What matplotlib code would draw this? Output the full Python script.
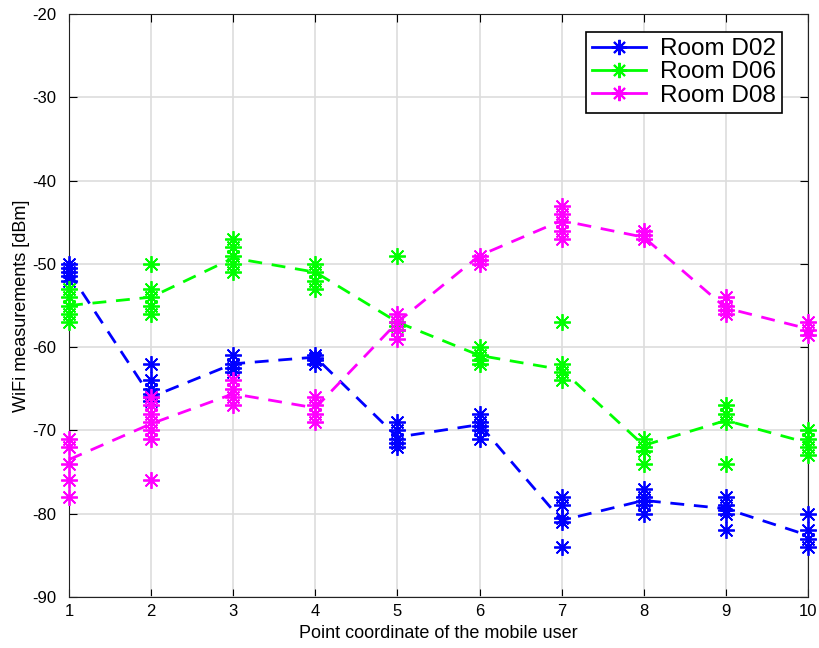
import numpy as np
import matplotlib
matplotlib.use('Agg')
import matplotlib.pyplot as plt
from matplotlib.lines import Line2D

plt.rcParams['font.family'] = ['Liberation Sans', 'DejaVu Sans']
plt.rcParams['axes.unicode_minus'] = False

positions = [1, 2, 3, 4, 5, 6, 7, 8, 9, 10]
rooms = ['Room D02', 'Room D06', 'Room D08']
colors = ['#0000ff', '#00ff00', '#ff00ff']

# individual measurements per point (dBm)
d02_points = [
    [-50, -50.5, -51, -51.5, -52],
    [-62, -64, -65, -65.6, -66, -66.5],
    [-61, -62, -62.5, -63],
    [-61, -61.3, -61.6, -62],
    [-69, -70, -71, -71.5, -72],
    [-68, -69, -69.5, -70, -71],
    [-78, -79, -80.5, -81, -84],
    [-77, -78, -78.5, -79, -80],
    [-78, -79, -79.5, -80, -82],
    [-80, -82, -83, -84],
]
d06_points = [
    [-53, -54, -55, -56, -57],
    [-50, -53, -54, -55, -56],
    [-47, -48, -49, -50, -51],
    [-50, -51, -52, -53],
    [-49, -57, -57.5, -58],
    [-60, -61, -61.5, -62],
    [-57, -62, -63, -64],
    [-71, -72, -72.5, -74],
    [-67, -68, -69, -74],
    [-70, -71, -72, -73],
]
d08_points = [
    [-71, -72, -74, -76, -78],
    [-66, -67, -68, -69, -70, -71, -76],
    [-64, -65, -66, -67],
    [-66, -67, -68, -69],
    [-56, -57, -58, -59],
    [-49, -49.5, -50],
    [-43, -44, -45, -46, -47],
    [-46, -46.5, -47],
    [-54, -55, -55.5, -56],
    [-57, -58, -58.5],
]

# mean curves (dashed)
d02_mean = [-51, -66, -62, -61.2, -70.8, -69.3, -80.8, -78.4, -79.4, -82.6]
d06_mean = [-55, -54, -49.3, -51, -57, -61, -62.7, -71.8, -68.8, -71.5]
d08_mean = [-73.5, -69.2, -65.6, -67.3, -57, -49, -44.8, -46.8, -55.3, -57.8]

all_points = [d02_points, d06_points, d08_points]
all_means = [d02_mean, d06_mean, d08_mean]

fig = plt.figure(figsize=(8.2, 6.48), dpi=100)
ax = fig.add_axes([69 / 820, 51 / 648, 739 / 820, 583 / 648])

asterisk = (8, 2, 0)
for pts, mean, c in zip(all_points, all_means, colors):
    xs, ys = [], []
    for x, vals in zip(positions, pts):
        xs += [x] * len(vals)
        ys += vals
    ax.plot(xs, ys, linestyle='none', marker=asterisk, markersize=12,
            markeredgewidth=1.3, color=c, clip_on=False, zorder=3)
    ax.plot(positions, mean, linestyle=(0, (5, 3.5)), linewidth=2, color=c, zorder=2)

ax.set_xlim(1, 10)
ax.set_ylim(-90, -20)
ax.set_xticks(positions)
ax.set_yticks(np.arange(-90, -19, 10))
ax.tick_params(direction='in', top=True, right=True, labelsize=12, length=6)
ax.tick_params(axis='y', pad=9)
ax.tick_params(axis='x', pad=5)
ax.grid(True, color='#dddddd', linewidth=1.2)
ax.set_axisbelow(True)
for s in ax.spines.values():
    s.set_color('#222222')
ax.set_xlabel('Point coordinate of the mobile user', fontsize=13, labelpad=4)
ax.set_ylabel('WiFi measurements [dBm]', fontsize=13, labelpad=2)

handles = [Line2D([0], [0], color=c, linewidth=2, marker=asterisk, markersize=11,
                  markeredgewidth=1.5) for c in colors]
leg = ax.legend(handles, rooms, loc='upper left', fontsize=17.5, fancybox=False,
                framealpha=1, edgecolor='black',
                bbox_to_anchor=(586 / 820, 1 - 32 / 648), bbox_transform=fig.transFigure,
                borderaxespad=0, handlelength=2.2, labelspacing=0.05,
                borderpad=0.25, handletextpad=0.6)
leg.get_frame().set_linewidth(1.2)

fig.savefig('out.png', dpi=100)
